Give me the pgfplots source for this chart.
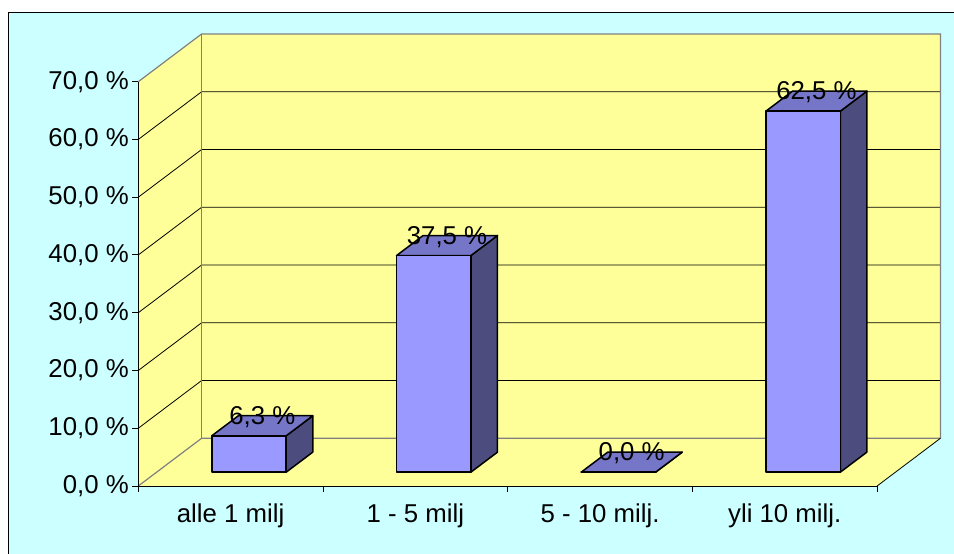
\documentclass[border=0pt]{standalone}
\usepackage{fontspec}
\setmainfont{Liberation Sans}
\usepackage{pgfplots}
\usepackage{pgfplotstable}
\pgfplotsset{compat=1.18}
\definecolor{bgcyan}{HTML}{CCFFFF}
\definecolor{wall}{HTML}{FFFF99}
\definecolor{edgegray}{HTML}{808080}
\definecolor{barfront}{HTML}{9999FF}
\definecolor{bartop}{HTML}{7676C8}
\definecolor{barside}{HTML}{4C4C7E}
\newcommand\lbl{\fontsize{25.8bp}{30bp}\selectfont}

\pgfplotstableread{
idx value
0 6.3
1 37.5
2 0.0
3 62.5
}\datatable

\begin{document}
\begin{tikzpicture}
\fill[white] (0bp,0bp) rectangle (954bp,554bp);
\filldraw[fill=bgcyan, draw=black, line width=1bp] (8.3bp,541.7bp) rectangle (970bp,-20bp);
\begin{axis}[
  x=184.7bp, y=5.776bp,
  xmin=0, xmax=4, ymin=0, ymax=70,
  enlargelimits=false,
  anchor=south west, at={(138.3bp,68bp)},
  clip=false,
  axis on top,
  axis x line*=bottom, axis y line*=left,
  axis line style={black, line width=1bp},
  xtick={0.5,1.5,2.5,3.5},
  xticklabels={alle 1 milj, 1 - 5 milj, 5 - 10 milj., yli 10 milj.},
  xtick style={draw=none},
  ytick={0,10,...,70},
  yticklabel={\pgfmathprintnumber[fixed,fixed zerofill,precision=1,use comma,assume math mode=true]{\tick} \%},
  ytick style={black, line width=1bp},
  tick align=outside,
  major tick length=6bp,
  tick label style={font=\lbl},
  xticklabel style={anchor=base, yshift=-30bp},
  yticklabel style={anchor=east},
]
% left wall
\fill[wall] (axis cs:0,0) -- (axis cs:0,70) -- (axis cs:0.3427,78.258) -- (axis cs:0.3427,8.258) -- cycle;
% back wall
\fill[wall] (axis cs:0.3427,8.258) rectangle (axis cs:4.3427,78.258);
% floor
\fill[wall] (axis cs:0,0) -- (axis cs:4,0) -- (axis cs:4.3427,8.258) -- (axis cs:0.3427,8.258) -- cycle;
% gridlines
\pgfplotsinvokeforeach{10,20,30,40,50,60}{
  \draw[black, line width=0.8bp] (axis cs:0,#1) -- (axis cs:0.3427,#1+8.258) -- (axis cs:4.3427,#1+8.258);
}
% gray edges
\draw[edgegray, line width=1.2bp] (axis cs:0,0) -- (axis cs:0.3427,8.258) -- (axis cs:4.3427,8.258) -- (axis cs:4.3427,78.258) -- (axis cs:0.3427,78.258) -- (axis cs:0,70);
\draw[edgegray, line width=1.2bp] (axis cs:0.3427,8.258) -- (axis cs:0.3427,78.258);
\draw[black, line width=0.8bp] (axis cs:4,0) -- (axis cs:4.3427,8.258);
% x boundary ticks
\pgfplotsinvokeforeach{0,1,2,3,4}{
  \draw[black, line width=1bp] (axis cs:#1,0) -- ([yshift=-6bp]axis cs:#1,0);
}
% bars
\pgfplotsinvokeforeach{0,1,2,3}{
  \pgfplotstablegetelem{#1}{value}\of\datatable
  \let\barval\pgfplotsretval
  \pgfmathsetmacro\pxa{#1+0.5-0.2014+0.0994}
  \pgfmathsetmacro\pxb{#1+0.5+0.2014+0.0994}
  \pgfmathsetmacro\pxc{#1+0.5+0.2014+0.2433}
  \pgfmathsetmacro\pxd{#1+0.5-0.2014+0.2433}
  \pgfmathsetmacro\pya{2.395}
  \pgfmathsetmacro\pyat{\barval+2.395}
  \pgfmathsetmacro\pyb{5.863}
  \pgfmathsetmacro\pybt{\barval+5.863}
  \pgfmathsetmacro\plx{#1+0.6714}
  \pgfmathsetmacro\ply{\barval+4.39}
  \edef\temp{%
    \noexpand\addplot[fill=barside, draw=black, line width=1.5bp, line join=round] coordinates {(\pxb,\pya)(\pxc,\pyb)(\pxc,\pybt)(\pxb,\pyat)} --cycle;
    \noexpand\addplot[fill=bartop, draw=black, line width=1.5bp, line join=round] coordinates {(\pxa,\pyat)(\pxb,\pyat)(\pxc,\pybt)(\pxd,\pybt)} --cycle;
    \noexpand\addplot[fill=barfront, draw=black, line width=1.5bp, line join=round] coordinates {(\pxa,\pya)(\pxb,\pya)(\pxb,\pyat)(\pxa,\pyat)} --cycle;
    \noexpand\node[anchor=base, font=\noexpand\lbl, inner sep=0pt] at (axis cs:\plx,\ply) {\noexpand\pgfmathprintnumber[fixed,fixed zerofill,precision=1,use comma,assume math mode=true]{\barval} \noexpand\%};
  }\temp
}
\end{axis}
\pgfresetboundingbox
\path[use as bounding box] (0bp,0bp) rectangle (954bp,554bp);
\end{tikzpicture}
\end{document}
